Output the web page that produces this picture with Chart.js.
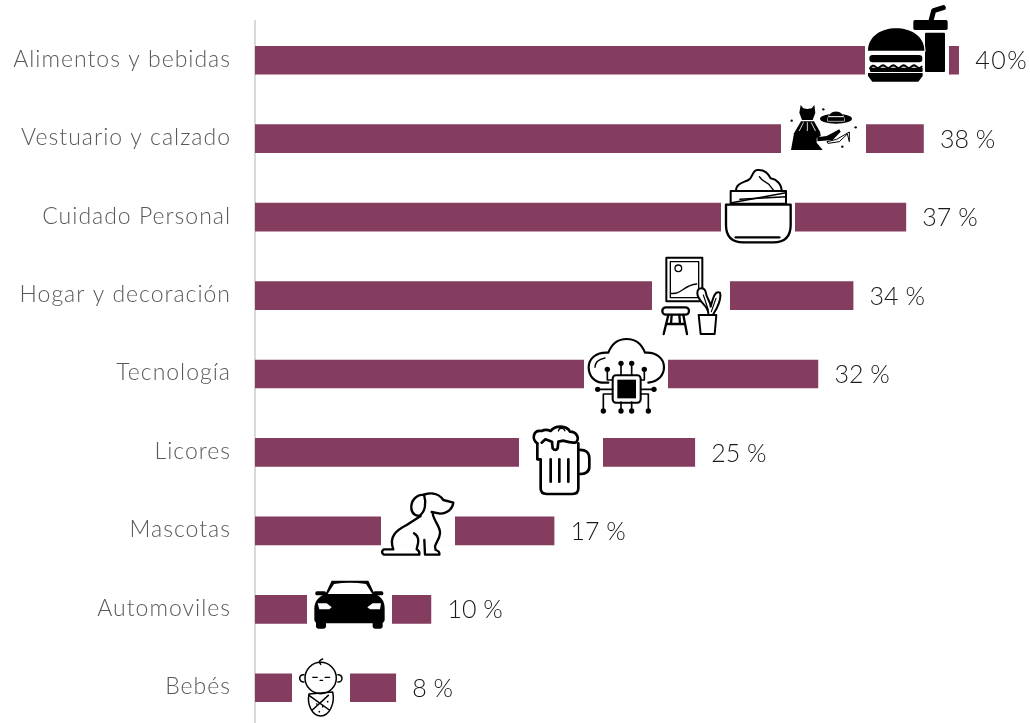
<!DOCTYPE html>
<html lang="es"><head><meta charset="utf-8">
<style>html,body{margin:0;padding:0;background:#fff;overflow:hidden;width:1030px;height:723px}canvas{display:block}</style>
<script src="https://cdn.jsdelivr.net/npm/chart.js@4"></script>
</head><body><canvas id="c" width="1030" height="727" style="width:1030px;height:727px"></canvas>
<script>
const categories=["Alimentos y bebidas","Vestuario y calzado","Cuidado Personal","Hogar y decoración","Tecnología","Licores","Mascotas","Automoviles","Bebés"];
const values=[40,38,37,34,32,25,17,10,8];
const valueLabels=["40%","38 %","37 %","34 %","32 %","25 %","17 %","10 %","8 %"];
const barColor="#843c5f", axisColor="#d9d9d9", labelColor="#595959", valueColor="#1a1a1a";
const ink="#000";

function P(ctx,pts,close){ctx.beginPath();pts.forEach((p,i)=>i?ctx.lineTo(p[0],p[1]):ctx.moveTo(p[0],p[1]));if(close)ctx.closePath();}
function dot(ctx,x,y,r){ctx.beginPath();ctx.arc(x,y,r,0,7);ctx.fill();}
function line(ctx,pts){P(ctx,pts);ctx.stroke();}
function rr(ctx,x,y,w,h,r){ctx.beginPath();ctx.roundRect(x,y,w,h,r);}

const icons=[
 {zoom:[640,0],gap:[675,927],draw(c){ // hamburguesa y bebida
   c.lineWidth=15;c.lineCap="round";c.lineJoin="round";line(c,[[873,62],[881,32],[910,23]]);
   c.fillStyle=ink;rr(c,820,60,103,30,5);c.fill();rr(c,855,98,60,118,3);c.fill();
   c.beginPath();c.moveTo(684,152);c.bezierCurveTo(684,108,725,85,768,85);c.bezierCurveTo(812,85,853,108,853,152);c.closePath();
   c.strokeStyle="#fff";c.lineWidth=8;c.stroke();c.fill();
   c.strokeStyle=ink;rr(c,688,165,159,22,10);c.fill();
   rr(c,690,203,158,13,3);c.fill();
   c.lineWidth=6;c.beginPath();c.moveTo(690,205);for(let i=0;i<5;i++){const x=690+i*31;c.quadraticCurveTo(x+8,192,x+16,200);c.quadraticCurveTo(x+24,208,x+31,200);}c.stroke();
   c.fillStyle="#fff";c.fillRect(676,216,180,3);c.fillStyle=ink;
   P(c,[[684,219],[848,219],[848,228],[835,245],[697,245],[684,228]],true);c.fill();
 }},
 {zoom:[640,0],gap:[423,678],draw(c){ // vestido, sombrero y zapatos
   c.fillStyle=ink;c.lineCap="round";c.lineJoin="round";
   P(c,[[482,315],[490,325],[502,327],[515,325],[523,315],[526,338],[518,360],[486,360],[478,338]],true);c.fill();
   P(c,[[483,364],[522,364],[540,395],[550,450],[453,450],[462,400]],true);c.fill();
   c.strokeStyle="#fff";c.lineWidth=2.5;line(c,[[490,368],[478,392]]);line(c,[[502,368],[502,392]]);line(c,[[514,368],[526,392]]);
   c.fillStyle="#fff";P(c,[[530,415],[570,392],[640,380],[640,450],[550,452],[530,428]],true);c.fill();
   c.fillStyle=ink;c.beginPath();c.ellipse(588,356,48,15,0,0,7);c.fill();
   c.strokeStyle="#fff";c.lineWidth=3;c.beginPath();c.moveTo(563,362);c.bezierCurveTo(563,325,613,325,613,362);c.closePath();c.stroke();c.fill();
   c.strokeStyle="#fff";c.lineWidth=3;line(c,[[566,350],[610,350]]);
   P(c,[[532,412],[560,408],[598,388],[602,395],[578,420],[532,424]],true);c.fill();
   c.strokeStyle=ink;c.lineWidth=3;P(c,[[562,425],[590,418],[628,396],[628,425],[622,402],[598,425],[565,430]],true);c.stroke();
   [[455,362],[550,328],[647,382],[607,440]].forEach(s=>dot(c,s[0],s[1],3.5));
 }},
 {zoom:[640,0],gap:[243,465],draw(c){ // crema
   c.strokeStyle=ink;c.lineWidth=7;c.lineJoin="round";c.lineCap="round";c.fillStyle="#fff";
   c.beginPath();c.moveTo(258,614);c.lineTo(452,614);c.lineTo(452,675);c.bezierCurveTo(452,712,432,727,400,727);c.lineTo(310,727);c.bezierCurveTo(278,727,258,712,258,675);c.closePath();c.fill();c.stroke();
   line(c,[[287,712],[418,712]]);
   c.lineWidth=6;c.fillRect(272,573,166,38);c.strokeRect(272,573,166,38);
   c.lineWidth=4.5;line(c,[[275,608],[438,578]]);line(c,[[300,598],[438,590]]);
   c.lineWidth=6;c.beginPath();c.moveTo(288,572);c.bezierCurveTo(288,550,310,548,325,540);c.bezierCurveTo(340,532,335,512,352,510);c.bezierCurveTo(372,508,385,520,392,535);c.bezierCurveTo(410,538,425,552,425,574);c.stroke();
   c.lineWidth=4;c.beginPath();c.moveTo(358,530);c.bezierCurveTo(368,548,385,545,392,560);c.lineTo(400,570);c.stroke();
 }},
 {zoom:[640,0],gap:[36,270],draw(c){ // cuadro, banco y planta
   c.strokeStyle=ink;c.lineJoin="round";c.lineCap="round";c.fillStyle="#fff";
   c.lineWidth=6;c.strokeRect(79,773,108,131);
   c.lineWidth=4;c.strokeRect(91,785,85,108);
   c.beginPath();c.arc(115,805,10,0,7);c.stroke();
   c.beginPath();c.moveTo(92,880);c.bezierCurveTo(125,885,130,855,170,852);c.stroke();
   c.lineWidth=7;rr(c,67,922,80,22,11);c.stroke();
   line(c,[[85,945],[71,1002]]);line(c,[[130,945],[141,1002]]);line(c,[[78,972],[135,972]]);line(c,[[95,945],[93,970]]);line(c,[[118,945],[120,970]]);
   c.lineWidth=6;
   P(c,[[176,945],[229,945],[224,1002],[182,1002]],true);c.fill();c.stroke();
   c.beginPath();c.moveTo(205,940);c.bezierCurveTo(205,915,172,905,172,880);c.bezierCurveTo(172,860,195,860,198,880);c.bezierCurveTo(200,895,212,905,212,920);c.bezierCurveTo(220,890,225,872,240,878);c.bezierCurveTo(245,895,232,925,220,942);c.fill();c.stroke();
   c.lineWidth=3.5;line(c,[[190,885],[205,930]]);line(c,[[228,895],[214,935]]);
 }},
 {zoom:[280,330],gap:[912,1164],draw(c){ // nube y chip
   c.strokeStyle=ink;c.fillStyle=ink;c.lineCap="round";c.lineJoin="round";c.lineWidth=6.5;
   c.beginPath();c.moveTo(985,158);c.lineTo(965,158);c.bezierCurveTo(940,155,926,135,926,112);c.bezierCurveTo(926,85,950,65,985,68);c.bezierCurveTo(995,42,1015,27,1040,27);c.bezierCurveTo(1065,27,1085,42,1095,68);c.bezierCurveTo(1128,65,1152,85,1152,112);c.bezierCurveTo(1152,135,1135,155,1105,158);c.stroke();
   c.lineWidth=4;c.beginPath();c.moveTo(945,112);c.bezierCurveTo(945,98,955,88,975,84);c.stroke();
   c.lineWidth=5;
   [[982,118,982,150,998],[1093,118,1093,150,1082]].forEach(a=>line(c,[[a[0],a[1]],[a[2],a[3]],[a[4],a[3]]]));
   [1023,1055].forEach(x=>{line(c,[[x,100],[x,136]]);dot(c,x,100,8);line(c,[[x,216],[x,243]]);dot(c,x,243,8);});
   [[982,118],[1093,118],[953,178],[1122,178],[970,243],[1105,243]].forEach(p=>dot(c,p[0],p[1],8));
   line(c,[[953,178],[998,178]]);line(c,[[1122,178],[1082,178]]);
   line(c,[[970,243],[970,192],[998,192]]);line(c,[[1105,243],[1105,192],[1082,192]]);
   c.lineWidth=6;rr(c,998,136,84,82,10);c.stroke();
   c.fillRect(1012,149,56,56);
 }},
 {zoom:[280,330],gap:[717,969],draw(c){ // cerveza
   c.strokeStyle=ink;c.lineCap="round";c.lineJoin="round";c.lineWidth=8;
   c.beginPath();c.moveTo(772,340);c.lineTo(772,388);c.lineTo(782,388);c.lineTo(782,475);c.quadraticCurveTo(782,492,800,492);c.lineTo(878,492);c.quadraticCurveTo(895,492,895,475);c.lineTo(895,340);c.stroke();
   c.beginPath();c.moveTo(897,360);c.quadraticCurveTo(928,358,928,385);c.lineTo(928,410);c.quadraticCurveTo(928,432,897,432);c.stroke();
   [812,838,865].forEach(x=>line(c,[[x,388],[x,455]]));
   c.beginPath();c.moveTo(772,340);c.bezierCurveTo(755,330,758,298,785,303);c.bezierCurveTo(795,298,805,300,812,303);c.bezierCurveTo(825,285,860,285,870,305);c.bezierCurveTo(890,305,900,325,888,337);c.bezierCurveTo(875,340,860,335,850,332);c.lineTo(835,335);c.lineTo(833,355);c.quadraticCurveTo(825,365,818,355);c.lineTo(816,335);c.lineTo(796,328);c.lineTo(785,338);c.stroke();
   c.lineWidth=4;c.beginPath();c.arc(845,305,10,3.4,6);c.stroke();
 }},
 {zoom:[280,330],gap:[303,525],draw(c){ // perro
   c.strokeStyle=ink;c.lineCap="round";c.lineJoin="round";c.lineWidth=7;
   c.beginPath();c.moveTo(432,494);c.bezierCurveTo(460,485,480,495,490,510);c.lineTo(520,518);c.bezierCurveTo(518,535,505,550,480,551);c.lineTo(455,546);
   c.moveTo(458,550);c.bezierCurveTo(462,575,482,590,480,610);c.bezierCurveTo(478,630,468,635,465,650);c.lineTo(467,660);c.quadraticCurveTo(480,664,478,674);c.lineTo(435,674);c.lineTo(433,630);
   c.moveTo(402,610);c.bezierCurveTo(425,625,410,650,410,658);c.quadraticCurveTo(420,664,418,674);c.lineTo(312,674);c.quadraticCurveTo(300,666,312,658);c.lineTo(340,658);c.bezierCurveTo(325,620,350,600,380,585);c.lineTo(422,558);c.stroke();
   c.beginPath();c.moveTo(432,494);c.bezierCurveTo(410,494,392,510,394,535);c.bezierCurveTo(395,552,410,560,420,556);c.bezierCurveTo(435,545,440,520,432,494);c.stroke();
   dot(c,470,517,4);
 }},
 {zoom:[280,330],gap:[81,336],draw(c){ // coche
   c.fillStyle=ink;c.strokeStyle=ink;c.lineJoin="round";
   rr(c,108,860,30,36,7);c.fill();rr(c,278,860,30,36,7);c.fill();
   P(c,[[135,795],[155,752],[265,752],[285,795]],true);c.fill();
   rr(c,106,784,32,12,5);c.fill();rr(c,280,784,30,12,5);c.fill();
   c.beginPath();c.moveTo(135,792);c.lineTo(285,792);c.bezierCurveTo(305,800,314,815,314,835);c.lineTo(314,868);c.quadraticCurveTo(314,880,300,880);c.lineTo(118,880);c.quadraticCurveTo(103,880,103,868);c.lineTo(103,835);c.bezierCurveTo(103,815,115,800,135,792);c.fill();
   c.fillStyle="#fff";
   c.beginPath();c.moveTo(143,792);c.lineTo(162,762);c.quadraticCurveTo(210,755,258,762);c.lineTo(277,792);c.closePath();c.fill();
   c.beginPath();c.moveTo(113,820);c.lineTo(140,820);c.lineTo(155,832);c.lineTo(148,838);c.lineTo(118,838);c.closePath();c.fill();
   c.beginPath();c.moveTo(303,820);c.lineTo(278,820);c.lineTo(262,832);c.lineTo(270,838);c.lineTo(300,838);c.closePath();c.fill();
 }},
 {zoom:[280,330],gap:[36,210],draw(c){ // bebé
   c.strokeStyle=ink;c.fillStyle=ink;c.lineCap="round";c.lineJoin="round";c.lineWidth=4.5;
   c.beginPath();c.arc(122,1044,47,0,7);c.stroke();
   c.beginPath();c.arc(70,1045,11,1.4,4.9);c.stroke();c.beginPath();c.arc(175,1045,11,-1.7,1.7);c.stroke();
   c.beginPath();c.moveTo(128,987);c.quadraticCurveTo(112,992,122,1003);c.stroke();
   c.lineWidth=3.5;line(c,[[98,1042],[112,1042]]);line(c,[[135,1042],[149,1042]]);line(c,[[120,1051],[128,1051]]);
   c.lineWidth=4.5;
   c.beginPath();c.moveTo(87,1092);c.lineTo(158,1086);c.bezierCurveTo(166,1120,148,1158,122,1158);c.bezierCurveTo(98,1158,80,1125,87,1092);c.closePath();c.stroke();
   line(c,[[87,1096],[148,1140]]);line(c,[[145,1096],[97,1140]]);
   [[110,1122],[128,1130],[143,1115],[118,1145]].forEach(p=>dot(c,p[0],p[1],2.5));
 }}
];

const overlay={id:"overlay",
 beforeDraw(chart){chart.ctx.letterSpacing="1px";},
 afterDatasetsDraw(chart){
  const c=chart.ctx,x=chart.scales.x,y=chart.scales.y;
  const meta=chart.getDatasetMeta(0);
  c.letterSpacing="0px";
  values.forEach((v,i)=>{
    const end=x.getPixelForValue(v),cy=y.getPixelForValue(i),bar=meta.data[i],ic=icons[i];
    const sx=px=>ic.zoom[0]+px/3;
    c.save();
    c.fillStyle="#fff";
    c.fillRect(sx(ic.gap[0]),bar.y-bar.height/2-1,(ic.gap[1]-ic.gap[0])/3,bar.height+2);
    c.translate(ic.zoom[0],ic.zoom[1]);c.scale(1/3,1/3);
    ic.draw(c);
    c.restore();
    c.save();
    c.font="300 25px Lato";c.fillStyle=valueColor;c.textBaseline="middle";c.textAlign="left";
    if(!valueLabels[i].includes(" "))c.letterSpacing="1.5px";
    c.fillText(valueLabels[i],end+16.5,cy+1);
    c.restore();
  });
  c.letterSpacing="1px";
 }};

new Chart(document.getElementById("c"),{
  type:"bar",
  data:{labels:categories,datasets:[{data:values,backgroundColor:barColor,barThickness:28,borderWidth:0}]},
  plugins:[overlay],
  options:{
    indexAxis:"y",responsive:false,animation:false,
    layout:{padding:{top:21,right:1,bottom:0,left:0},autoPadding:false},
    plugins:{legend:{display:false},tooltip:{enabled:false},title:{display:false}},
    scales:{
      x:{display:false,min:0,max:44,grid:{display:false}},
      y:{afterFit(s){s.width=255;s.paddingTop=0;s.paddingBottom=0;},
         grid:{display:false,drawTicks:false},
         border:{display:true,color:axisColor,width:2},
         ticks:{color:labelColor,padding:24,labelOffset:-1,font:{family:"Lato",size:23,weight:"300"},autoSkip:false}}
    }
  }
});
</script></body></html>
